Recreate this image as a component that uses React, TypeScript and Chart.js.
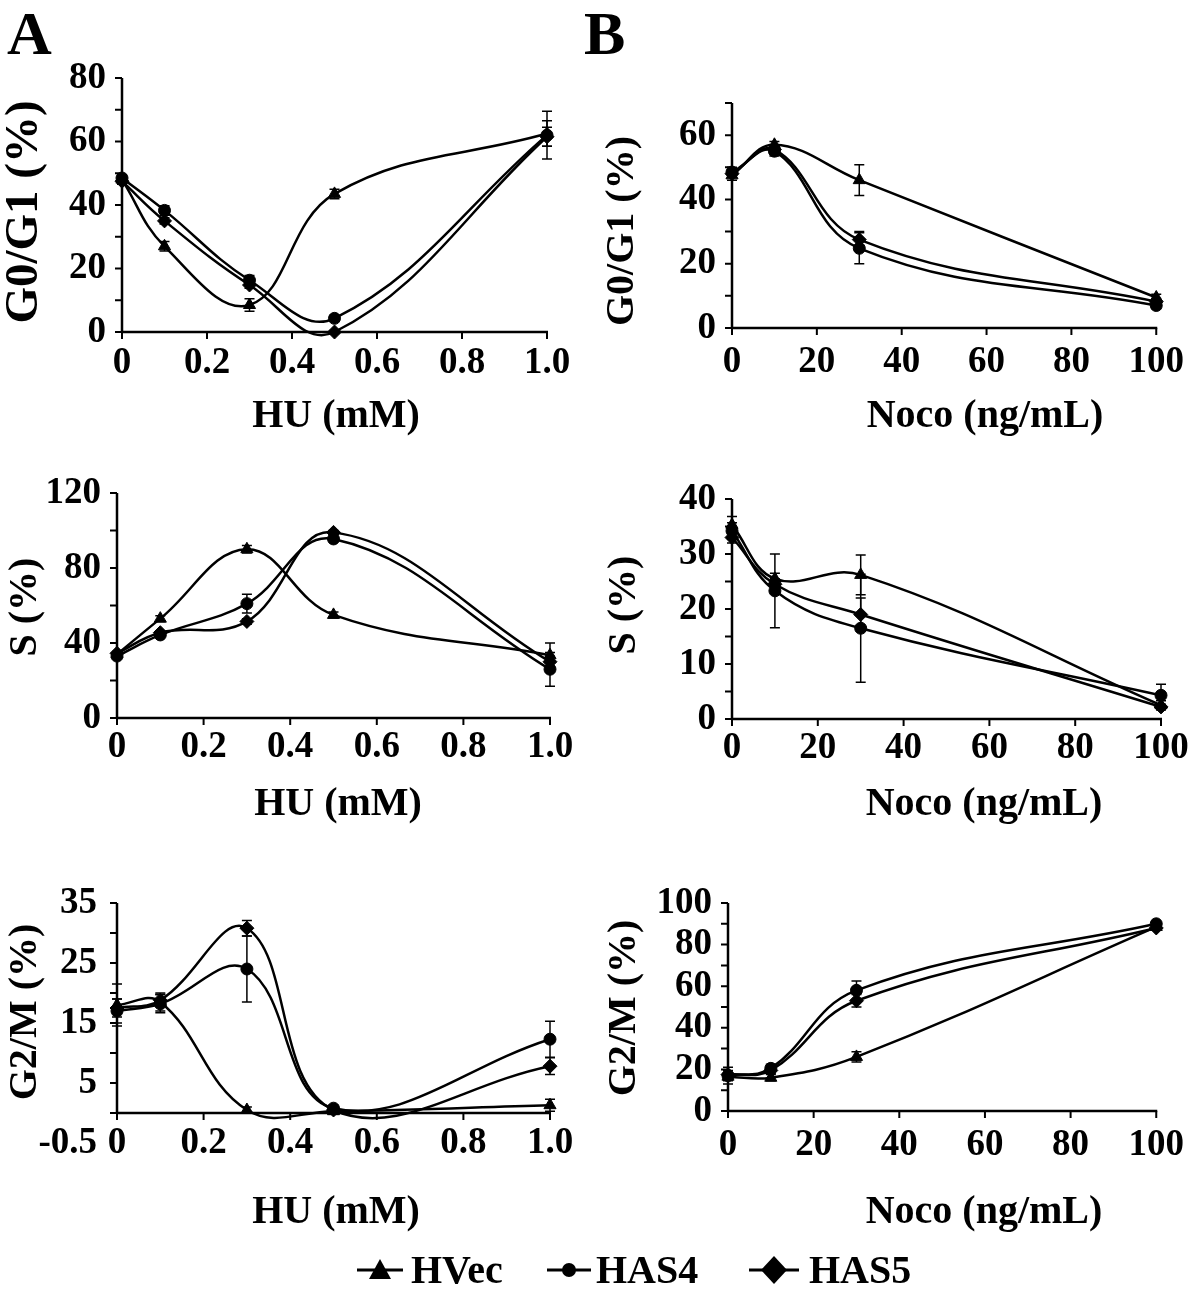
import React, { useEffect, useRef } from 'react';
import { Chart, registerables } from 'chart.js';

Chart.register(...registerables);

const SERIF = '"Liberation Serif", "Times New Roman", Times, serif';

// ---------- series ----------
const SERIES_NAMES = ['HVec', 'HAS4', 'HAS5'];
const SERIES_STYLES = ['triangle', 'circle', 'rectRot'];
const SERIES_RADII = [7, 6, 7];

// ---------- doses ----------
const HU_DOSE = [0, 0.1, 0.3, 0.5, 1.0];
const NOCO_DOSE = [0, 10, 30, 100];

// ---------- Panel A: HU, G0/G1 ----------
const HU_G1_HVEC = [48, 27, 8.5, 43.5, 62.5];
const HU_G1_HAS4 = [48.5, 38.3, 16.3, 4.3, 62];
const HU_G1_HAS5 = [47.5, 35, 14.8, 0, 61.5];
const HU_G1_HVEC_ERR = [1.5, 1.5, 2, 1.5, 4];
const HU_G1_HAS4_ERR = [1, 1.5, 1.5, 1, 7.5];
const HU_G1_HAS5_ERR = [1, 1, 1, 0.5, 3];

// ---------- Panel A: HU, S ----------
const HU_S_HVEC = [34, 53, 90, 55, 33.5];
const HU_S_HAS4 = [33, 44.3, 61, 95.5, 26];
const HU_S_HAS5 = [34.5, 45.5, 51.5, 99, 30];
const HU_S_HVEC_ERR = [1, 1.5, 2, 1.5, 6.5];
const HU_S_HAS4_ERR = [1, 1, 5, 1.5, 9];
const HU_S_HAS5_ERR = [1, 1, 1.5, 1, 3];

// ---------- Panel A: HU, G2/M ----------
const HU_G2M_HVEC = [18, 18.5, 0.5, 0.3, 1.3];
const HU_G2M_HAS4 = [17, 18.2, 24, 0.8, 12.3];
const HU_G2M_HAS5 = [17.5, 18.8, 30.8, 0.5, 7.8];
const HU_G2M_HVEC_ERR = [3.5, 1.5, 0.5, 0.5, 1];
const HU_G2M_HAS4_ERR = [2, 1.5, 5.5, 0.5, 3];
const HU_G2M_HAS5_ERR = [1.5, 1, 1.3, 0.5, 1.4];

// ---------- Panel B: Noco, G0/G1 ----------
const NOCO_G1_HVEC = [47.5, 57, 46, 9.5];
const NOCO_G1_HAS4 = [48.5, 55, 24.8, 7];
const NOCO_G1_HAS5 = [48, 55.5, 27.5, 8.2];
const NOCO_G1_HVEC_ERR = [1.5, 1, 4.8, 1];
const NOCO_G1_HAS4_ERR = [1.5, 1.5, 4.8, 1];
const NOCO_G1_HAS5_ERR = [1, 1, 2.5, 1];

// ---------- Panel B: Noco, S ----------
const NOCO_S_HVEC = [35.3, 25.5, 26.2, 2.5];
const NOCO_S_HAS4 = [34.2, 23.3, 16.5, 4.3];
const NOCO_S_HAS5 = [33, 24.5, 19, 2.2];
const NOCO_S_HVEC_ERR = [1.5, 1, 3.6, 0.8];
const NOCO_S_HAS4_ERR = [1.5, 6.7, 9.8, 2];
const NOCO_S_HAS5_ERR = [1, 1, 3, 0.5];

// ---------- Panel B: Noco, G2/M ----------
const NOCO_G2M_HVEC = [16.5, 16, 26, 88.5];
const NOCO_G2M_HAS4 = [17, 20.5, 58, 90];
const NOCO_G2M_HAS5 = [17.5, 19.5, 53, 88];
const NOCO_G2M_HVEC_ERR = [2, 1.5, 2.5, 1];
const NOCO_G2M_HAS4_ERR = [4, 2, 4.5, 1];
const NOCO_G2M_HAS5_ERR = [2, 1.5, 3, 1];

// ---------- tick labels ----------
const HU_X_TICKS = [0, 0.2, 0.4, 0.6, 0.8, 1.0];
const HU_X_LABELS = ['0', '0.2', '0.4', '0.6', '0.8', '1.0'];
const NOCO_X_TICKS = [0, 20, 40, 60, 80, 100];
const NOCO_X_LABELS = ['0', '20', '40', '60', '80', '100'];

const A1_Y_TICKS = [0, 20, 40, 60, 80];
const A1_Y_LABELS = ['0', '20', '40', '60', '80'];
const B1_Y_TICKS = [0, 20, 40, 60];
const B1_Y_LABELS = ['0', '20', '40', '60'];
const A2_Y_TICKS = [0, 40, 80, 120];
const A2_Y_LABELS = ['0', '40', '80', '120'];
const B2_Y_TICKS = [0, 10, 20, 30, 40];
const B2_Y_LABELS = ['0', '10', '20', '30', '40'];
const A3_Y_TICKS = [-5, 5, 15, 25, 35];
const A3_Y_LABELS = ['-0.5', '5', '15', '25', '35'];
const B3_Y_TICKS = [0, 20, 40, 60, 80, 100];
const B3_Y_LABELS = ['0', '20', '40', '60', '80', '100'];

const HU_TITLE = 'HU (mM)';
const NOCO_TITLE = 'Noco (ng/mL)';

// ---------- plugins ----------
const axesPlugin = {
  id: 'sciAxes',
  beforeDatasetsDraw(chart: any) {
    const xs = chart.scales.x;
    const ys = chart.scales.y;
    const ctx = chart.ctx;
    const y0 = ys.getPixelForValue(Math.max(ys.min, 0));
    const xL = xs.getPixelForValue(xs.min);
    const xR = xs.getPixelForValue(xs.max);
    const yT = ys.getPixelForValue(ys.max);
    ctx.save();
    ctx.strokeStyle = '#000';
    ctx.lineWidth = 2.5;
    ctx.beginPath();
    ctx.moveTo(xL, y0 + 1);
    ctx.lineTo(xL, yT);
    ctx.moveTo(xL, y0);
    ctx.lineTo(xR + 1, y0);
    ctx.stroke();
    ctx.lineWidth = 2;
    ctx.beginPath();
    ys.ticks.forEach((t: any) => {
      if (t.value < 0) return;
      const p = ys.getPixelForValue(t.value);
      ctx.moveTo(xL - 7, p);
      ctx.lineTo(xL, p);
    });
    xs.ticks.forEach((t: any) => {
      const p = xs.getPixelForValue(t.value);
      ctx.moveTo(p, y0);
      ctx.lineTo(p, y0 + 7);
    });
    ctx.stroke();
    ctx.restore();
  },
};

const errorBarPlugin = {
  id: 'errorBars',
  beforeDatasetsDraw(chart: any) {
    const xs = chart.scales.x;
    const ys = chart.scales.y;
    const ctx = chart.ctx;
    ctx.save();
    ctx.strokeStyle = '#000';
    ctx.lineWidth = 1.5;
    chart.data.datasets.forEach((ds: any) => {
      const errs: number[] = ds.errors;
      if (!errs) return;
      ds.data.forEach((pt: any, j: number) => {
        const e = errs[j];
        if (!e) return;
        const x = xs.getPixelForValue(pt.x);
        const yt = ys.getPixelForValue(pt.y + e);
        const yb = ys.getPixelForValue(pt.y - e);
        ctx.beginPath();
        ctx.moveTo(x, yt);
        ctx.lineTo(x, yb);
        ctx.moveTo(x - 5, yt);
        ctx.lineTo(x + 5, yt);
        ctx.moveTo(x - 5, yb);
        ctx.lineTo(x + 5, yb);
        ctx.stroke();
      });
    });
    ctx.restore();
  },
};

function makeTitlePlugin(spec: any) {
  return {
    id: 'panelTitles',
    afterDraw(chart: any) {
      const ctx = chart.ctx;
      const ox = spec.box.x;
      const oy = spec.box.y;
      ctx.save();
      ctx.fillStyle = '#000';
      ctx.textAlign = 'center';
      ctx.textBaseline = 'middle';
      ctx.font = `bold ${spec.xTitle.size}px ${SERIF}`;
      ctx.fillText(spec.xTitle.text, spec.xTitle.cx - ox, spec.xTitle.cy - oy);
      ctx.translate(spec.yTitle.cx - ox, spec.yTitle.cy - oy);
      ctx.rotate(-Math.PI / 2);
      ctx.font = `bold ${spec.yTitle.size}px ${SERIF}`;
      ctx.fillText(spec.yTitle.text, 0, 0);
      ctx.restore();
    },
  };
}

function labelFrom(values: number[], labels: string[]) {
  return (v: any) => {
    const i = values.findIndex((t) => Math.abs(t - Number(v)) < 1e-9);
    return i >= 0 ? labels[i] : '';
  };
}

function buildConfig(spec: any) {
  const { box, area } = spec;
  const padTop = area.t - box.y;
  const padRight = box.x + box.w - area.r;
  const yW = area.l - box.x;
  const xH = box.y + box.h - area.b;
  const tickFont = { family: SERIF, size: 37, weight: 'bold' as const, lineHeight: 1 };
  const datasets = spec.series.map((s: any, i: number) => ({
    label: SERIES_NAMES[i],
    data: spec.xValues.map((x: number, j: number) => ({ x, y: s.values[j] })),
    errors: s.errors,
    borderColor: '#000',
    backgroundColor: '#000',
    pointBackgroundColor: '#000',
    pointBorderColor: '#000',
    pointBorderWidth: 1,
    borderWidth: 2.5,
    pointStyle: SERIES_STYLES[i],
    pointRadius: SERIES_RADII[i],
    tension: 0.4,
    fill: false,
    clip: false,
  }));
  return {
    type: 'line',
    data: { datasets },
    options: {
      responsive: false,
      animation: false,
      devicePixelRatio: 1,
      layout: { padding: { top: padTop, right: padRight, left: 0, bottom: spec.xAtZero ? xH : 0 } },
      elements: { line: { capBezierPoints: false } },
      plugins: { legend: { display: false }, tooltip: { enabled: false } },
      scales: {
        x: {
          type: 'linear',
          min: spec.xMin,
          max: spec.xMax,
          position: spec.xAtZero ? { y: 0 } : 'bottom',
          ticks: {
            stepSize: spec.xStep,
            autoSkip: false,
            maxRotation: 0,
            padding: spec.xTickPad,
            color: '#000',
            font: tickFont,
            callback: labelFrom(spec.xTicks, spec.xLabels),
          },
          grid: { display: false, drawTicks: false },
          border: { display: false },
          afterFit: (s: any) => {
            s.height = spec.xAtZero ? 0 : xH;
          },
        },
        y: {
          type: 'linear',
          min: spec.yMin,
          max: spec.yMax,
          ticks: {
            stepSize: spec.yStep,
            autoSkip: false,
            padding: spec.yTickPad,
            color: '#000',
            font: tickFont,
            callback: labelFrom(spec.yTicks, spec.yLabels),
          },
          grid: { display: false, drawTicks: false },
          border: { display: false },
          afterFit: (s: any) => {
            s.width = yW;
          },
        },
      },
    },
    plugins: [axesPlugin, errorBarPlugin, makeTitlePlugin(spec)],
  };
}

const PANELS = [
  {
    key: 'A1',
    box: { x: 0, y: 40, w: 600, h: 397 },
    area: { l: 122, t: 78, r: 547, b: 332 },
    xValues: HU_DOSE, xMin: 0, xMax: 1, xStep: 0.2, xTicks: HU_X_TICKS, xLabels: HU_X_LABELS, xTickPad: 13,
    yMin: 0, yMax: 80, yStep: 10, yTicks: A1_Y_TICKS, yLabels: A1_Y_LABELS, yTickPad: 16,
    xTitle: { text: HU_TITLE, cx: 336, cy: 417, size: 40 },
    yTitle: { text: 'G0/G1 (%)', cx: 25, cy: 212, size: 47 },
    series: [
      { values: HU_G1_HVEC, errors: HU_G1_HVEC_ERR },
      { values: HU_G1_HAS4, errors: HU_G1_HAS4_ERR },
      { values: HU_G1_HAS5, errors: HU_G1_HAS5_ERR },
    ],
  },
  {
    key: 'B1',
    box: { x: 600, y: 40, w: 600, h: 397 },
    area: { l: 732, t: 103, r: 1161, b: 328 },
    xValues: NOCO_DOSE, xMin: 0, xMax: 100, xStep: 20, xTicks: NOCO_X_TICKS, xLabels: NOCO_X_LABELS, xTickPad: 16,
    yMin: 0, yMax: 70, yStep: 10, yTicks: B1_Y_TICKS, yLabels: B1_Y_LABELS, yTickPad: 16,
    xTitle: { text: NOCO_TITLE, cx: 985, cy: 417, size: 40 },
    yTitle: { text: 'G0/G1 (%)', cx: 623, cy: 231, size: 40 },
    series: [
      { values: NOCO_G1_HVEC, errors: NOCO_G1_HVEC_ERR },
      { values: NOCO_G1_HAS4, errors: NOCO_G1_HAS4_ERR },
      { values: NOCO_G1_HAS5, errors: NOCO_G1_HAS5_ERR },
    ],
  },
  {
    key: 'A2',
    box: { x: 0, y: 450, w: 600, h: 375 },
    area: { l: 117, t: 493, r: 550, b: 718 },
    xValues: HU_DOSE, xMin: 0, xMax: 1, xStep: 0.2, xTicks: HU_X_TICKS, xLabels: HU_X_LABELS, xTickPad: 11,
    yMin: 0, yMax: 120, yStep: 20, yTicks: A2_Y_TICKS, yLabels: A2_Y_LABELS, yTickPad: 16,
    xTitle: { text: HU_TITLE, cx: 338, cy: 805, size: 40 },
    yTitle: { text: 'S (%)', cx: 26, cy: 607, size: 40 },
    series: [
      { values: HU_S_HVEC, errors: HU_S_HVEC_ERR },
      { values: HU_S_HAS4, errors: HU_S_HAS4_ERR },
      { values: HU_S_HAS5, errors: HU_S_HAS5_ERR },
    ],
  },
  {
    key: 'B2',
    box: { x: 600, y: 450, w: 600, h: 375 },
    area: { l: 732, t: 499, r: 1161, b: 719 },
    xValues: NOCO_DOSE, xMin: 0, xMax: 100, xStep: 20, xTicks: NOCO_X_TICKS, xLabels: NOCO_X_LABELS, xTickPad: 11,
    yMin: 0, yMax: 40, yStep: 5, yTicks: B2_Y_TICKS, yLabels: B2_Y_LABELS, yTickPad: 16,
    xTitle: { text: NOCO_TITLE, cx: 984, cy: 805, size: 40 },
    yTitle: { text: 'S (%)', cx: 625, cy: 605, size: 40 },
    series: [
      { values: NOCO_S_HVEC, errors: NOCO_S_HVEC_ERR },
      { values: NOCO_S_HAS4, errors: NOCO_S_HAS4_ERR },
      { values: NOCO_S_HAS5, errors: NOCO_S_HAS5_ERR },
    ],
  },
  {
    key: 'A3',
    box: { x: 0, y: 860, w: 600, h: 403 },
    area: { l: 117, t: 903, r: 550, b: 1143 },
    xAtZero: true,
    xValues: HU_DOSE, xMin: 0, xMax: 1, xStep: 0.2, xTicks: HU_X_TICKS, xLabels: HU_X_LABELS, xTickPad: 12,
    yMin: -5, yMax: 35, yStep: 5, yTicks: A3_Y_TICKS, yLabels: A3_Y_LABELS, yTickPad: 20,
    xTitle: { text: HU_TITLE, cx: 336, cy: 1213, size: 40 },
    yTitle: { text: 'G2/M (%)', cx: 26, cy: 1012, size: 40 },
    series: [
      { values: HU_G2M_HVEC, errors: HU_G2M_HVEC_ERR },
      { values: HU_G2M_HAS4, errors: HU_G2M_HAS4_ERR },
      { values: HU_G2M_HAS5, errors: HU_G2M_HAS5_ERR },
    ],
  },
  {
    key: 'B3',
    box: { x: 600, y: 860, w: 600, h: 373 },
    area: { l: 728, t: 903, r: 1164, b: 1111 },
    xValues: NOCO_DOSE, xMin: 0, xMax: 100, xStep: 20, xTicks: NOCO_X_TICKS, xLabels: NOCO_X_LABELS, xTickPad: 16,
    yMin: 0, yMax: 100, yStep: 10, yTicks: B3_Y_TICKS, yLabels: B3_Y_LABELS, yTickPad: 16,
    xTitle: { text: NOCO_TITLE, cx: 984, cy: 1213, size: 40 },
    yTitle: { text: 'G2/M (%)', cx: 625, cy: 1008, size: 40 },
    series: [
      { values: NOCO_G2M_HVEC, errors: NOCO_G2M_HVEC_ERR },
      { values: NOCO_G2M_HAS4, errors: NOCO_G2M_HAS4_ERR },
      { values: NOCO_G2M_HAS5, errors: NOCO_G2M_HAS5_ERR },
    ],
  },
];

function Panel({ spec }: { spec: any }) {
  const ref = useRef<HTMLCanvasElement | null>(null);
  useEffect(() => {
    if (!ref.current) return;
    const chart = new Chart(ref.current, buildConfig(spec) as any);
    return () => chart.destroy();
  }, [spec]);
  return (
    <canvas
      ref={ref}
      width={spec.box.w}
      height={spec.box.h}
      style={{ position: 'absolute', left: spec.box.x, top: spec.box.y, width: spec.box.w, height: spec.box.h }}
    />
  );
}

function LegendMarker({ style, width }: { style: string; width: number }) {
  const c = width / 2;
  let shape: React.ReactNode = null;
  if (style === 'triangle') shape = <polygon points={`${c},4 ${c - 11},24 ${c + 11},24`} fill="#000" />;
  else if (style === 'circle') shape = <circle cx={c} cy={15} r={7} fill="#000" />;
  else shape = <polygon points={`${c},1 ${c + 13},15 ${c},29 ${c - 13},15`} fill="#000" />;
  return (
    <svg width={width} height={30} style={{ display: 'block' }}>
      <line x1={0} y1={15} x2={width} y2={15} stroke="#000" strokeWidth={3} />
      {shape}
    </svg>
  );
}

const LEGEND_LAYOUT = [
  { lineX: 357, lineW: 46, textX: 411 },
  { lineX: 547, lineW: 44, textX: 596 },
  { lineX: 749, lineW: 50, textX: 809 },
];

export default function App() {
  const textStyle: React.CSSProperties = {
    position: 'absolute',
    fontFamily: SERIF,
    fontWeight: 'bold',
    color: '#000',
    whiteSpace: 'nowrap',
  };
  return (
    <div style={{ position: 'absolute', left: 0, top: 0, width: 1200, height: 1294, background: '#fff', overflow: 'hidden' }}>
      <div style={{ ...textStyle, left: 7, top: 2, fontSize: 62, lineHeight: '62px' }}>A</div>
      <div style={{ ...textStyle, left: 584, top: 2, fontSize: 62, lineHeight: '62px' }}>B</div>
      {PANELS.map((p) => (
        <Panel key={p.key} spec={p} />
      ))}
      {SERIES_NAMES.map((name, i) => (
        <React.Fragment key={name}>
          <div style={{ position: 'absolute', left: LEGEND_LAYOUT[i].lineX, top: 1255 }}>
            <LegendMarker style={SERIES_STYLES[i]} width={LEGEND_LAYOUT[i].lineW} />
          </div>
          <div style={{ ...textStyle, left: LEGEND_LAYOUT[i].textX, top: 1250, fontSize: 40, lineHeight: '40px' }}>{name}</div>
        </React.Fragment>
      ))}
    </div>
  );
}
